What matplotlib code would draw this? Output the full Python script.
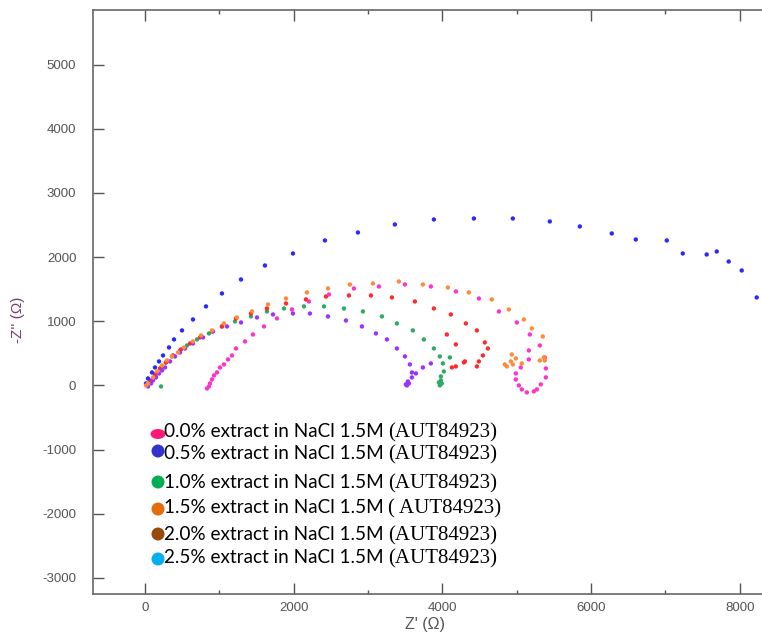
import matplotlib
matplotlib.use("Agg")
import matplotlib.pyplot as plt
from matplotlib.patches import Ellipse

plt.rcParams['axes.unicode_minus'] = False

# ---- data (Z', -Z'') ----
blue_x = [13, 40, 94, 134, 188, 242, 323, 390, 497, 645, 820, 1035, 1291, 1613, 1990, 2420, 2864, 3361,
          3886, 4424, 4948, 5445, 5849, 6279, 6602, 7019, 7234, 7556, 7691, 7852, 8027, 8229]
blue_y = [31, 109, 202, 280, 374, 467, 592, 717, 857, 1028, 1231, 1433, 1651, 1869, 2056, 2259, 2383, 2508,
          2586, 2601, 2601, 2555, 2477, 2368, 2274, 2259, 2056, 2040, 2087, 1931, 1791, 1371]

pink_x = [834, 860, 874, 901, 928, 968, 1008, 1062, 1116, 1170, 1224, 1345, 1452, 1600, 1775, 1976, 2205,
          2474, 2810, 3146, 3496, 3845, 4182, 4491, 4760, 5002, 5176, 5311, 5378, 5392, 5392, 5324, 5271,
          5230, 5136, 5069, 5029, 4988, 4988, 5055, 5163, 5163]
pink_y = [-47, -16, 31, 93, 156, 202, 280, 327, 405, 467, 576, 685, 794, 919, 1044, 1184, 1308,
          1417, 1511, 1542, 1573, 1542, 1464, 1355, 1153, 981, 794, 623, 436, 265, 125, 16, -62,
          -93, -109, -62, 0, 93, 187, 280, 405, 545]

purple_x = [40, 81, 108, 148, 188, 229, 269, 336, 403, 471, 538, 645, 780, 914, 1103, 1291, 1506, 1721,
            1990, 2218, 2461, 2703, 2918, 3106, 3254, 3388, 3496, 3563, 3590, 3590, 3536, 3523, 3550,
            3509, 3644, 3738, 3845]
purple_y = [-16, 31, 78, 125, 187, 234, 280, 374, 452, 514, 576, 654, 748, 841, 919, 981, 1059, 1106,
            1121, 1121, 1075, 1012, 919, 810, 717, 576, 452, 327, 202, 125, 62, 0, 31,
            16, 187, 280, 343]

green_x = [215, 67, 108, 161, 215, 282, 363, 471, 565, 699, 860, 1035, 1210, 1425, 1640, 1869, 2138,
           2407, 2676, 2931, 3187, 3388, 3603, 3751, 3886, 3966, 4101, 4007, 4020, 3980, 3980, 3993,
           3953, 3966]
green_y = [-16, 47, 109, 187, 265, 358, 452, 545, 623, 717, 810, 919, 997, 1075, 1153, 1199, 1231,
           1231, 1199, 1153, 1075, 966, 857, 717, 576, 452, 436, 343, 218, 140, 78, 31,
           47, 0]

orange_x = [13, 40, 108, 161, 229, 296, 363, 444, 524, 645, 753, 901, 1062, 1237, 1439, 1654, 1896,
            2178, 2461, 2756, 3066, 3415, 3738, 4074, 4356, 4666, 4894, 5096, 5203, 5351, 5365, 5378,
            5311, 5069, 4988, 4934, 4921, 4948, 4840, 4867]
orange_y = [0, 31, 125, 218, 312, 389, 452, 514, 592, 685, 779, 857, 966, 1059, 1153, 1262, 1355,
            1449, 1511, 1573, 1589, 1620, 1573, 1526, 1449, 1340, 1184, 1028, 888, 763, 436, 389,
            389, 343, 421, 483, 374, 327, 327, 296]

red_x = [27, 67, 134, 202, 282, 376, 484, 605, 739, 901, 1035, 1224, 1425, 1640, 1896, 2165, 2434,
         2743, 3039, 3321, 3630, 3886, 4114, 4316, 4464, 4571, 4612, 4545, 4491, 4464, 4303, 4289,
         4181, 4128, 4060, 4181]
red_y = [16, 78, 171, 265, 358, 467, 561, 654, 748, 841, 919, 1044, 1121, 1199, 1277, 1340, 1386,
         1402, 1402, 1371, 1308, 1199, 1106, 966, 857, 670, 576, 467, 374, 296, 374, 358,
         296, 280, 794, 639]

legend_labels = ["0.0% extract in NaCl 1.5M ", "0.5% extract in NaCl 1.5M ",
                 "1.0% extract in NaCl 1.5M ", "1.5% extract in NaCl 1.5M ",
                 "2.0% extract in NaCl 1.5M ", "2.5% extract in NaCl 1.5M "]
legend_codes = ["(AUT84923)", "(AUT84923)", "(AUT84923)", "( AUT84923)", "(AUT84923)", "(AUT84923)"]
legend_colors = ["#ff1a75", "#3333cc", "#00b050", "#e46c0a", "#984807", "#00b0f0"]

xticks = [0, 2000, 4000, 6000, 8000]
yticks = [-3000, -2000, -1000, 0, 1000, 2000, 3000, 4000, 5000]

W, H = 762, 635
fig = plt.figure(figsize=(W / 100, H / 100), dpi=100)
ax = fig.add_axes([93 / W, 1 - 594 / H, (W - 93) / W, (594 - 10) / H])

series = [(green_x, green_y, "#2eaa66"), (red_x, red_y, "#ff2a2a"), (blue_x, blue_y, "#2a2aff"),
          (pink_x, pink_y, "#ff33cc"), (purple_x, purple_y, "#9933ff"), (orange_x, orange_y, "#ff8a3a")]
for sx, sy, c in series:
    ax.scatter(sx, sy, s=10, color=c, edgecolors='none', zorder=3)

ax.set_xlim(-700, 8300)
ax.set_ylim(-3250, 5850)
ax.set_xticks(xticks)
ax.set_xticks([1000, 3000, 5000, 7000], minor=True)
ax.set_yticks(yticks)
ax.tick_params(axis='both', which='major', direction='in', length=8, width=1, color='#555555',
               labelsize=9.5, labelcolor='#555555', top=True)
ax.tick_params(axis='y', which='major', pad=12)
ax.tick_params(axis='x', which='major', pad=6)
ax.tick_params(axis='x', which='minor', direction='in', length=3, width=1, color='#555555', top=True)
for s in ['left', 'bottom', 'top']:
    ax.spines[s].set_color('#666666')
    ax.spines[s].set_linewidth(1.2)
ax.spines['right'].set_visible(False)
for lab in ax.get_xticklabels() + ax.get_yticklabels():
    lab.set_family('Liberation Sans')

fig.text(425 / W, 1 - 625 / H, "Z' (\u03a9)", ha='center', va='center', fontsize=11.5,
         color='#555555', family='Liberation Sans')
fig.text(18 / W, 1 - 320 / H, "-Z'' (\u03a9)", ha='center', va='center', fontsize=11,
         color='#7a3d70', rotation=90, family='Liberation Sans')

# ---- legend-like annotation ----
text_y = [431, 453, 482, 507, 534, 557]
mark_y = [434, 451, 482, 509, 534, 559]
for i in range(6):
    if i == 0:
        e = Ellipse((158 / W, 1 - mark_y[i] / H), 15 / W, 10 / H, transform=fig.transFigure,
                    facecolor=legend_colors[i], edgecolor='none')
    else:
        e = Ellipse((158 / W, 1 - mark_y[i] / H), 13 / W, 13 / H, transform=fig.transFigure,
                    facecolor=legend_colors[i], edgecolor='none')
    fig.add_artist(e)
    base = 1 - (text_y[i] + 6) / H
    fig.text(164 / W, base, legend_labels[i], ha='left', va='baseline',
             fontsize=13.6, family='Lato', color='black')
    fig.text(388 / W, base, legend_codes[i], ha='left', va='baseline',
             fontsize=15, family='Liberation Serif', color='black')

fig.savefig("out.png", dpi=100)
